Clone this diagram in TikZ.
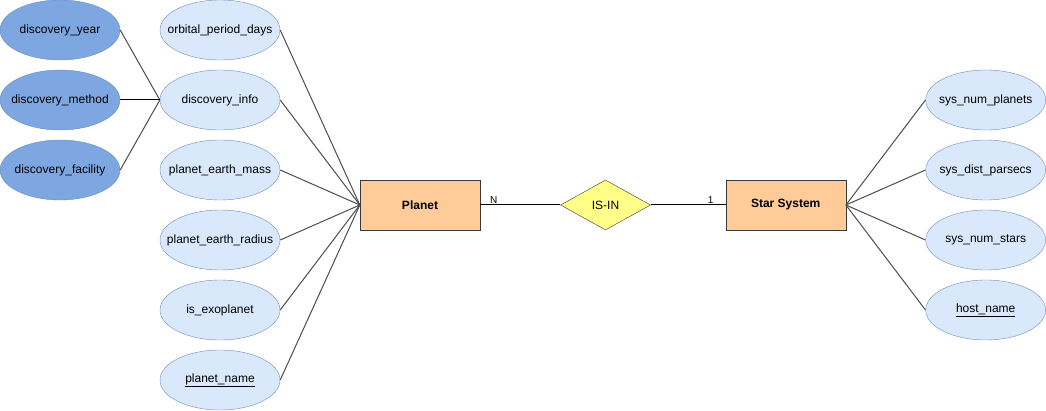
\documentclass[tikz,border=0pt]{standalone}
\usepackage{fontspec}
\setmainfont{Liberation Sans}
\usetikzlibrary{shapes.geometric}
\definecolor{attrfill}{HTML}{DAE8FC}
\definecolor{attrdark}{HTML}{7EA6E0}
\definecolor{attrline}{HTML}{6C8EBF}
\definecolor{entfill}{HTML}{FFCC99}
\definecolor{relfill}{HTML}{FFFF88}
\definecolor{edgeline}{HTML}{36393D}
\definecolor{conn}{HTML}{4D4D4D}
\begin{document}
\begin{tikzpicture}[x=1pt,y=-1pt,
  every node/.style={font=\fontsize{12}{14}\selectfont, inner sep=0pt},
  attr/.style={ellipse, draw=attrline, fill=attrfill, minimum width=120pt, minimum height=60pt, inner sep=0pt},
  subattr/.style={attr, fill=attrdark},
  entity/.style={rectangle, draw=edgeline, fill=entfill, minimum width=120pt, minimum height=50pt, font=\fontsize{12}{14}\selectfont\bfseries},
  rel/.style={diamond, aspect=1.8, draw=edgeline, fill=relfill, minimum width=90pt, minimum height=50pt},
  link/.style={draw=conn, line width=1pt},
  card/.style={font=\fontsize{10}{12}\selectfont, text=black}
]
\useasboundingbox (0,0) rectangle (1046,411);

% fixed-size ellipses; the text is set as a centred label
\newcommand{\attrnode}[4][attr]{\node[#1, label=center:{#4}] (#2) at (#3) {};}

% discovery sub-attributes
\attrnode[subattr]{dy}{60,30}{discovery\_year}
\attrnode[subattr]{dm}{60,100}{discovery\_method}
\attrnode[subattr]{df}{60,170}{discovery\_facility}

% planet attributes
\attrnode{opd}{220,30}{orbital\_period\_days}
\attrnode{di}{220,100}{discovery\_info}
\attrnode{pem}{220,170}{planet\_earth\_mass}
\attrnode{per}{220,240}{planet\_earth\_radius}
\attrnode{exo}{220,310}{is\_exoplanet}
\attrnode{pn}{220,380}{\underline{planet\_name}}

% entities and relationship
\node[entity] (planet) at (420,205) {Planet};
\node[rel] (isin) at (605.5,205) {IS-IN};
\node[entity] (star) at (785.7,205) {Star System};

% star system attributes
\attrnode{snp}{985.7,100}{sys\_num\_planets}
\attrnode{sdp}{985.7,170}{sys\_dist\_parsecs}
\attrnode{sns}{985.7,240}{sys\_num\_stars}
\attrnode{hn}{985.7,310}{\underline{host\_name}}

% connectors
\draw[link] (dy.east) -- (di.west);
\draw[link, draw=black] (dm.east) -- (di.west);
\draw[link] (df.east) -- (di.west);

\foreach \a in {opd,di,pem,per,exo,pn}
  \draw[link] (\a.east) -- (planet.west);
\foreach \a in {snp,sdp,sns,hn}
  \draw[link] (star.east) -- (\a.west);

\draw[line width=1pt] (planet.east) -- node[card, pos=0.17, above=1pt] {N} (isin.west);
\draw[line width=1pt] (isin.east) -- node[card, pos=0.8, above=1pt] {1} (star.west);
\end{tikzpicture}
\end{document}
